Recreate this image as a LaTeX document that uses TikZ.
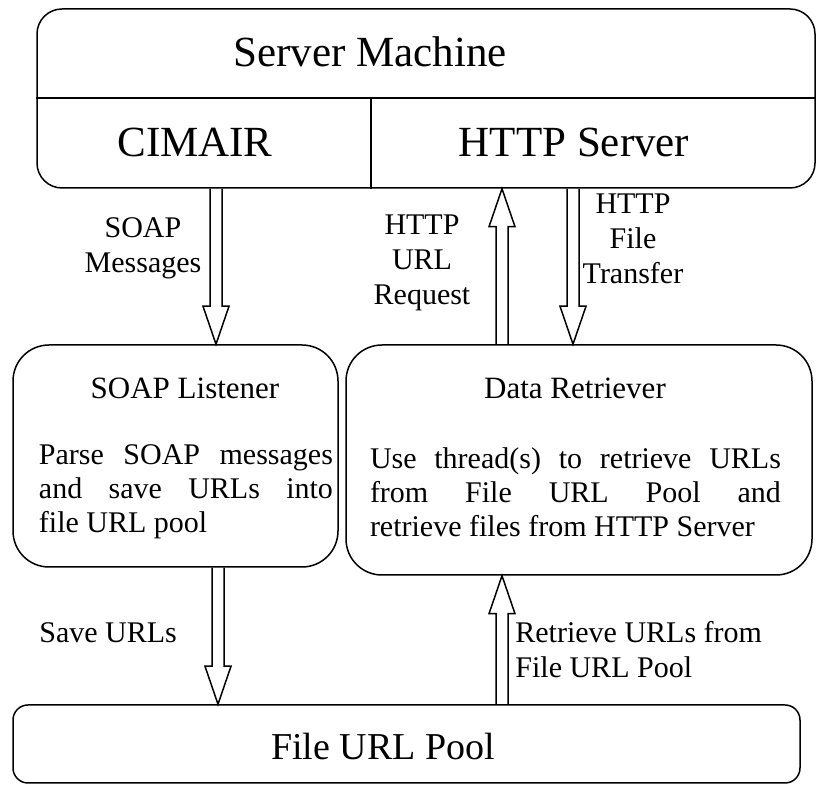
\documentclass[tikz,border=0pt]{standalone}
\usepackage{fontspec}
\setmainfont{Liberation Serif}
\usetikzlibrary{calc}

% hollow block arrow, vertical, from #1 to #2
\newcommand{\blockarrow}[2]{%
  \draw[blockline] ($(#1)+(-3pt,0)$) -- ($(#2)!19pt!(#1)+(-3pt,0)$)
    -- ($(#2)!19pt!(#1)+(-6.5pt,0)$) -- (#2)
    -- ($(#2)!19pt!(#1)+(6.5pt,0)$) -- ($(#2)!19pt!(#1)+(3pt,0)$)
    -- ($(#1)+(3pt,0)$);}

\begin{document}
\begin{tikzpicture}[
  x=0.5pt, y=-0.5pt,
  box/.style={draw, line width=0.75pt, inner sep=0pt},
  blockline/.style={line width=0.75pt, line join=miter},
  biglabel/.style={font=\fontsize{21.5}{25}\selectfont, inner sep=0pt},
  poolfont/.style={font=\fontsize{19}{23}\selectfont, inner sep=0pt},
  title/.style={font=\fontsize{15.5}{18}\selectfont, inner sep=0pt},
  body/.style={font=\fontsize{15}{17}\selectfont, align=justify, inner sep=0pt},
  note/.style={font=\fontsize{15}{17.5}\selectfont, align=center, inner sep=0pt}
]
\useasboundingbox (0,0) rectangle (816,785);

% Server machine
\node[box, rounded corners=12.5pt, minimum width=389pt, minimum height=89.5pt]
  (server) at (426,98.5) {};
\draw[line width=0.75pt] (server.west |- 0,98) -- (server.east |- 0,98);
\draw[line width=0.75pt] (371,98) -- (371,0 |- server.south);
\node[biglabel] (machine) at (370,52) {Server Machine};
\node[biglabel] (cimair) at (195,142) {CIMAIR};
\node[biglabel] (http) at (574,142) {HTTP Server};

% Listener and retriever
\node[box, rounded corners=18pt, minimum width=162.5pt, minimum height=111pt]
  (soap) at (175.5,456) {};
\node[box, rounded corners=18pt, minimum width=233pt, minimum height=115pt]
  (data) at (579,460) {};
\node[title] (soaptitle) at (185,388) {SOAP Listener};
\node[title] (datatitle) at (575,388) {Data Retriever};
\node[body, text width=147pt] (parse) at (186,492)
  {Parse SOAP messages\linebreak and save URLs into\linebreak file URL pool};
\node[body, text width=205.5pt] (retrieve) at (575.5,492)
  {Use thread(s) to retrieve URLs\linebreak from File URL Pool and\linebreak retrieve files from HTTP Server};

% Pool
\node[box, rounded corners=7.5pt, minimum width=393.5pt, minimum height=39pt]
  (pool) at (406.5,744) {};
\node[poolfont] (poollabel) at (383,747) {File URL Pool};

% Arrow ends
\coordinate (msgout) at (216,0 |- server.south);
\coordinate (msgin) at (216,0 |- soap.north);
\coordinate (reqout) at (502,0 |- data.north);
\coordinate (reqin) at (502,0 |- server.south);
\coordinate (fileout) at (573,0 |- server.south);
\coordinate (filein) at (573,0 |- data.north);
\coordinate (saveout) at (218,0 |- soap.south);
\coordinate (savein) at (218,0 |- pool.north);
\coordinate (getout) at (502,0 |- pool.north);
\coordinate (getin) at (502,0 |- data.south);

% Arrows
\blockarrow{msgout}{msgin}
\blockarrow{reqout}{reqin}
\blockarrow{fileout}{filein}
\blockarrow{saveout}{savein}
\blockarrow{getout}{getin}

% Labels
\node[note] (msglabel) at (143,248) {SOAP\\Messages};
\node[note] (reqlabel) at (422,263) {HTTP\\URL\\Request};
\node[note] (filelabel) at (633,239) {HTTP\\File\\Transfer};
\node[note, anchor=west] (savelabel) at (39,633) {Save URLs};
\node[note, anchor=west, align=left] (getlabel) at (515,650) {Retrieve URLs from\\File URL Pool};

\end{tikzpicture}
\end{document}
